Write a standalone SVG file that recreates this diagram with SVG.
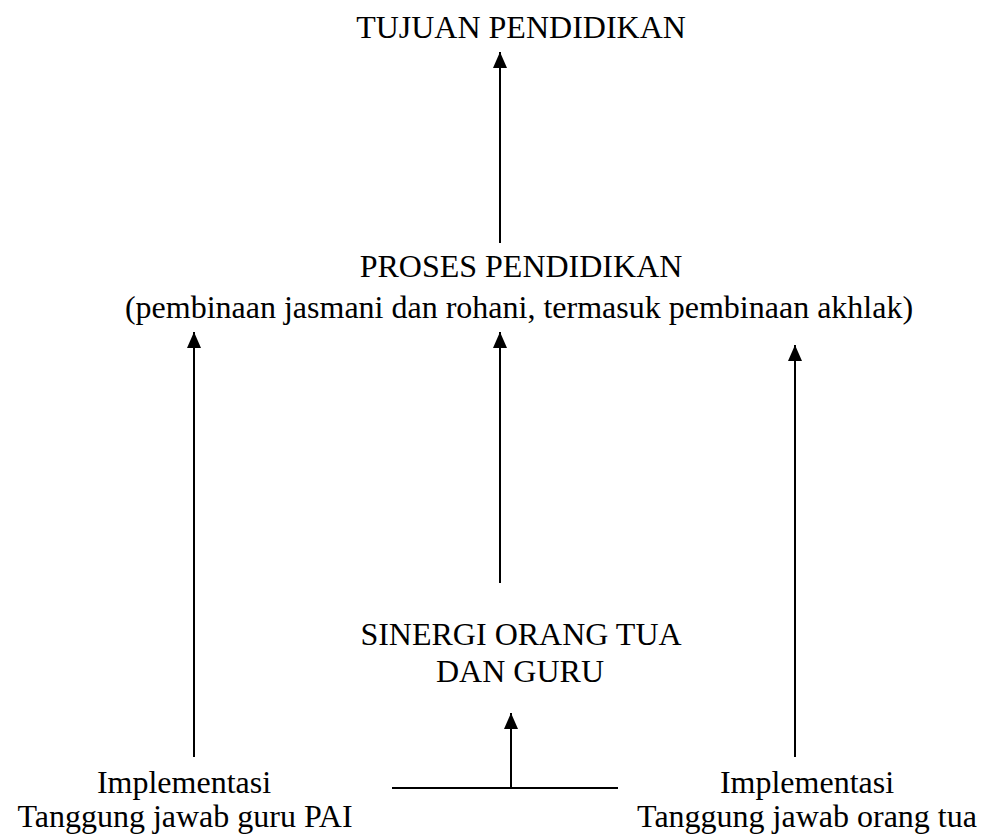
<svg xmlns="http://www.w3.org/2000/svg" width="981" height="836" viewBox="0 0 981 836">
<style>
text{font-family:"Liberation Serif","Times New Roman",serif;font-size:32px;fill:#000;text-anchor:middle}
.c line{stroke:#000;stroke-width:2}
</style>
<defs>
<marker id="ah2" viewBox="0 0 16 16" refX="16" refY="8" markerWidth="16" markerHeight="16" markerUnits="userSpaceOnUse" orient="auto">
<path d="M0,1L16,8L0,15Z" fill="#000"/>
</marker>
</defs>
<rect width="981" height="836" fill="#fff"/>
<g id="tujuan"><text x="521" y="38">TUJUAN PENDIDIKAN</text></g>
<g id="proses"><text x="521" y="277">PROSES PENDIDIKAN</text><text x="519" y="318">(pembinaan jasmani dan rohani, termasuk pembinaan akhlak)</text></g>
<g id="sinergi"><text x="521" y="645">SINERGI ORANG TUA</text><text x="520" y="682">DAN GURU</text></g>
<g id="guru"><text x="184" y="793">Implementasi</text><text x="185" y="827">Tanggung jawab guru PAI</text></g>
<g id="ortu"><text x="807" y="793">Implementasi</text><text x="807" y="827">Tanggung jawab orang tua</text></g>
<g class="c" id="connectors">
<line x1="500" y1="243" x2="500" y2="52" marker-end="url(#ah2)"/>
<line x1="194" y1="757" x2="194" y2="332" marker-end="url(#ah2)"/>
<line x1="500" y1="583" x2="500" y2="332" marker-end="url(#ah2)"/>
<line x1="795" y1="757" x2="795" y2="345" marker-end="url(#ah2)"/>
<line x1="392" y1="788" x2="618" y2="788"/>
<line x1="511" y1="788" x2="511" y2="713" marker-end="url(#ah2)"/>
</g>
</svg>
